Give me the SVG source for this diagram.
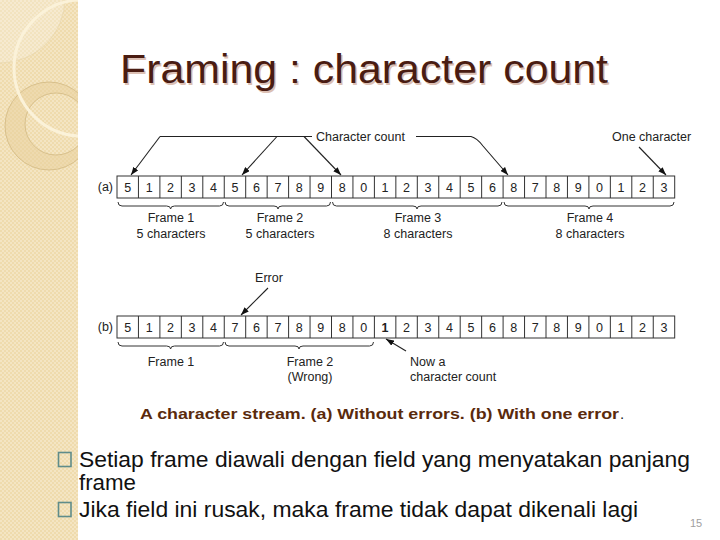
<svg xmlns="http://www.w3.org/2000/svg" width="720" height="540" viewBox="0 0 720 540">
<style>
.lbl{font-family:"Liberation Sans",Arial,sans-serif;font-size:12.5px;fill:#222}
.dig{font-family:"Liberation Sans",Arial,sans-serif;font-size:12.5px;fill:#222;text-anchor:middle}
.mid{text-anchor:middle}
.ln{fill:none;stroke:#222;stroke-width:1.1}
.br{fill:none;stroke:#333;stroke-width:1}
.cell{fill:#fff;stroke:#333;stroke-width:1}
.bul{font-family:"Liberation Sans Narrow","Liberation Sans",Arial,sans-serif;font-size:22px;fill:#111}
.box{fill:none;stroke:#5f8c8a;stroke-width:1.6}
</style>
<defs>
<pattern id="chk" width="4" height="4" patternUnits="userSpaceOnUse">
<rect width="4" height="4" fill="#efdbad"/>
<rect width="2" height="2" fill="#f4e5c3"/>
<rect x="2" y="2" width="2" height="2" fill="#f4e5c3"/>
</pattern>
<clipPath id="strip"><rect x="0" y="0" width="78" height="540"/></clipPath>
<marker id="ah" markerWidth="8" markerHeight="6" refX="8" refY="3" orient="auto" markerUnits="userSpaceOnUse">
<path d="M0,0 L8,3 L0,6 z" fill="#111"/>
</marker>
<g id="grid">
<rect class="cell" x="117" y="176" width="557.7" height="22"/>
<path class="br" d="M138.45,176V198M159.9,176V198M181.35,176V198M202.8,176V198M224.25,176V198M245.7,176V198M267.15,176V198M288.6,176V198M310.05,176V198M331.5,176V198M352.95,176V198M374.4,176V198M395.85,176V198M417.3,176V198M438.75,176V198M460.2,176V198M481.65,176V198M503.1,176V198M524.55,176V198M546,176V198M567.45,176V198M588.9,176V198M610.35,176V198M631.8,176V198M653.25,176V198"/>
</g>
</defs>
<rect width="720" height="540" fill="#fff"/>
<g id="strip-deco" clip-path="url(#strip)">
<rect x="0" y="0" width="78" height="540" fill="url(#chk)"/>
<circle cx="0" cy="-2" r="65" fill="#fff" fill-opacity="0.22" stroke="#e6d3a8" stroke-width="0.6"/>
<path d="M93,126 A44,44 0 1 0 93,126.01 Z M87,124 A31,31 0 1 1 87,123.99 Z" fill="#e8d09c" fill-opacity="0.5" fill-rule="evenodd"/>
<circle cx="49" cy="126" r="44" fill="none" stroke="#d2b983" stroke-width="0.8"/>
<circle cx="56" cy="124" r="31" fill="none" stroke="#d2b983" stroke-width="0.8"/>
<circle cx="82" cy="68" r="68" fill="none" stroke="#fbf2d9" stroke-width="3"/>
</g>
<g id="title">
<text x="121.5" y="84.5" font-family="Liberation Sans,Arial,sans-serif" font-size="41" fill="#dcc0b4" textLength="488" lengthAdjust="spacingAndGlyphs">Framing : character count</text>
<text x="120" y="83" font-family="Liberation Sans,Arial,sans-serif" font-size="41" fill="#4a1c12" textLength="488" lengthAdjust="spacingAndGlyphs">Framing : character count</text>
</g>
<g id="row-a">
<text class="lbl" x="113" y="191" text-anchor="end">(a)</text>
<use href="#grid"/>
<text class="dig" y="191.5" x="127.7 149.2 170.6 192.1 213.5 235 256.4 277.9 299.3 320.8 342.2 363.7 385.1 406.6 428 449.5 470.9 492.4 513.8 535.3 556.7 578.2 599.6 621.1 642.5 664">51234567898012345687890123</text>
</g>
<g id="row-b">
<text class="lbl" x="113" y="331" text-anchor="end">(b)</text>
<use href="#grid" y="140"/>
<text class="dig" y="331.5" x="127.7 149.2 170.6 192.1 213.5 235 256.4 277.9 299.3 320.8 342.2 363.7">512347678980</text>
<text class="dig" y="331.5" x="385.1" font-weight="bold">1</text>
<text class="dig" y="331.5" x="406.6 428 449.5 470.9 492.4 513.8 535.3 556.7 578.2 599.6 621.1 642.5 664">2345687890123</text>
</g>
<g id="label-character-count"><text class="lbl" x="316" y="140.5">Character count</text></g>
<g id="label-one-character"><text class="lbl" x="612" y="140.5">One character</text></g>
<g id="label-error"><text class="lbl mid" x="269" y="282">Error</text></g>
<g id="label-now"><text class="lbl" x="410" y="366">Now a</text><text class="lbl" x="410" y="381">character count</text></g>
<g id="frames-a">
<text class="lbl mid" x="171" y="222">Frame 1</text><text class="lbl mid" x="171" y="238">5 characters</text>
<text class="lbl mid" x="280" y="222">Frame 2</text><text class="lbl mid" x="280" y="238">5 characters</text>
<text class="lbl mid" x="418" y="222">Frame 3</text><text class="lbl mid" x="418" y="238">8 characters</text>
<text class="lbl mid" x="590" y="222">Frame 4</text><text class="lbl mid" x="590" y="238">8 characters</text>
</g>
<g id="frames-b">
<text class="lbl mid" x="171" y="366">Frame 1</text>
<text class="lbl mid" x="310" y="366">Frame 2</text><text class="lbl mid" x="310" y="381">(Wrong)</text>
</g>
<g id="connectors">
<path class="br" d="M118,202 Q118,206 122,206 H166.6 Q170.6,206 170.6,209 Q170.6,206 174.6,206 H219.5 Q223.5,206 223.5,202"/>
<path class="br" d="M225,202 Q225,206 229,206 H274 Q278,206 278,209 Q278,206 282,206 H326.5 Q330.5,206 330.5,202"/>
<path class="br" d="M332.5,202 Q332.5,206 336.5,206 H413 Q417,206 417,209 Q417,206 421,206 H498 Q502,206 502,202"/>
<path class="br" d="M504,202 Q504,206 508,206 H585 Q589,206 589,209 Q589,206 593,206 H670 Q674,206 674,202"/>
<path class="br" d="M118,342 Q118,346 122,346 H166.6 Q170.6,346 170.6,349 Q170.6,346 174.6,346 H219.5 Q223.5,346 223.5,342"/>
<path class="br" d="M225,342 Q225,346 229,346 H295 Q299,346 299,349 Q299,346 303,346 H369.5 Q373.5,346 373.5,342"/>
<path class="ln" d="M160,136.5 H312"/>
<path class="ln" d="M160,136.5 L131,175" marker-end="url(#ah)"/>
<path class="ln" d="M277,136.5 L242,175" marker-end="url(#ah)"/>
<path class="ln" d="M304,136.5 L341,175" marker-end="url(#ah)"/>
<path class="ln" d="M416,136.5 H471 Q477,138 483,146 L508,175" marker-end="url(#ah)"/>
<path class="ln" d="M639,147 L666,175" marker-end="url(#ah)"/>
<path class="ln" d="M268,288 L241,315" marker-end="url(#ah)"/>
<path class="ln" d="M406,351 L386,339" marker-end="url(#ah)"/>
</g>
<g id="caption">
<text x="140" y="418.5" font-family="Liberation Sans Narrow,Liberation Sans,Arial,sans-serif" font-size="15" font-weight="bold" fill="#5a2a0c" textLength="479" lengthAdjust="spacingAndGlyphs">A character stream. (a) Without errors. (b) With one error</text>
<text x="620" y="418.5" font-family="Liberation Sans,Arial,sans-serif" font-size="15" fill="#222">.</text>
</g>
<g id="bullets">
<rect class="box" x="58.5" y="452.5" width="12.5" height="14"/>
<text class="bul" x="79" y="466.5" textLength="611" lengthAdjust="spacingAndGlyphs">Setiap frame diawali dengan field yang menyatakan panjang</text>
<text class="bul" x="79" y="489.5" textLength="57" lengthAdjust="spacingAndGlyphs">frame</text>
<rect class="box" x="58.5" y="502.5" width="12.5" height="14"/>
<text class="bul" x="79" y="517" textLength="559" lengthAdjust="spacingAndGlyphs">Jika field ini rusak, maka frame tidak dapat dikenali lagi</text>
</g>
<g id="page-number"><text x="690" y="527" font-family="Liberation Sans,Arial,sans-serif" font-size="11" fill="#a0a0a0">15</text></g>
</svg>
